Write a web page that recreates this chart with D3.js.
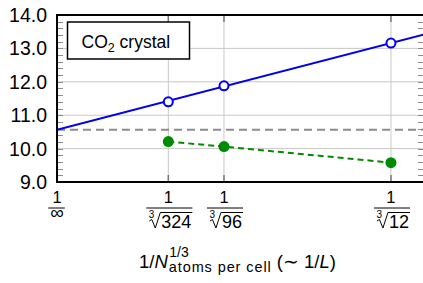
<!DOCTYPE html>
<html>
<head>
<meta charset="utf-8">
<script src="https://cdn.jsdelivr.net/npm/d3@7"></script>
<style>
	body { margin: 0; background: #fff; }
	text { font-family: "Liberation Sans", Arial, sans-serif; }
</style>
</head>
<body>
<div id="chart"></div>
<script>
// atoms per cell for each supercell, x = 1/cbrt(N)
var atomsPerCell = [324, 96, 12];
var xTickDenoms = ["∞", "324", "96", "12"];
var blueValues = [11.40, 11.88, 13.16];
var greenValues = [10.21, 10.06, 9.58];
var fitLine = [[0, 10.565], [0.48, 13.415]];
var limitLevel = 10.565;
var yTicks = [9, 10, 11, 12, 13, 14];
var legendLabel = "crystal";

function drawChart() {
	var width = 423,
		height = 283;
	var left = 57, right = 424, top = 15, bottom = 182;

	var svg = d3.select("#chart").append("svg")
		.attr("width", width)
		.attr("height", height);

	var x = d3.scaleLinear().domain([0, 0.48]).range([left, right]);
	var y = d3.scaleLinear().domain([9, 14]).range([bottom, top]);

	var xTicks = [0].concat(atomsPerCell.map(function(n) { return 1 / Math.cbrt(n); }));
	var minorTicks = d3.range(9, 14.01, 0.2);

	// grid
	svg.selectAll("line.hgrid")
		.data(yTicks.slice(1, -1))
		.enter().append("line")
			.attr("class", "hgrid")
			.attr("x1", left).attr("x2", right)
			.attr("y1", function(d) { return y(d); })
			.attr("y2", function(d) { return y(d); })
			.style("stroke", "#c8c8c8").style("stroke-width", 1);
	svg.selectAll("line.vgrid")
		.data(xTicks.slice(1))
		.enter().append("line")
			.attr("class", "vgrid")
			.attr("x1", function(d) { return x(d); })
			.attr("x2", function(d) { return x(d); })
			.attr("y1", top).attr("y2", bottom)
			.style("stroke", "#c8c8c8").style("stroke-width", 1);

	// ticks (inside, left/right and top/bottom)
	var tickColor = "#8c8c8c";
	[left, right].forEach(function(edge) {
		var dir = edge == left ? 1 : -1;
		svg.selectAll(null)
			.data(minorTicks)
			.enter().append("line")
				.attr("x1", edge).attr("x2", edge + dir * 6)
				.attr("y1", function(d) { return Math.round(y(d)) + 0.5; })
				.attr("y2", function(d) { return Math.round(y(d)) + 0.5; })
				.style("stroke", tickColor).style("stroke-width", 1);
	});
	[top, bottom].forEach(function(edge) {
		var dir = edge == top ? 1 : -1;
		svg.selectAll(null)
			.data(xTicks.slice(1))
			.enter().append("line")
				.attr("x1", function(d) { return x(d); })
				.attr("x2", function(d) { return x(d); })
				.attr("y1", edge).attr("y2", edge + dir * 7)
				.style("stroke", "#777").style("stroke-width", 1.5);
	});

	var plot = svg.append("g");
	svg.append("clipPath").attr("id", "clip")
		.append("rect").attr("x", left).attr("y", top)
		.attr("width", right - left).attr("height", bottom - top);
	plot.attr("clip-path", "url(#clip)");

	// extrapolated limit
	plot.append("line")
		.attr("x1", left).attr("x2", right)
		.attr("y1", y(limitLevel)).attr("y2", y(limitLevel))
		.style("stroke", "#8c8c8c").style("stroke-width", 2)
		.style("stroke-dasharray", "8,5");

	var line = d3.line()
		.x(function(d) { return x(d[0]); })
		.y(function(d) { return y(d[1]); });

	plot.append("path")
		.attr("d", line(fitLine))
		.style("fill", "none").style("stroke", "#0000ee").style("stroke-width", 2);

	var greenPts = atomsPerCell.map(function(n, i) { return [1 / Math.cbrt(n), greenValues[i]]; });
	plot.append("path")
		.attr("d", line(greenPts))
		.style("fill", "none").style("stroke", "#008a00").style("stroke-width", 2)
		.style("stroke-dasharray", "6,4");

	plot.selectAll("circle.blue")
		.data(atomsPerCell)
		.enter().append("circle")
			.attr("class", "blue")
			.attr("cx", function(d) { return x(1 / Math.cbrt(d)); })
			.attr("cy", function(d, i) { return y(blueValues[i]); })
			.attr("r", 4.5)
			.style("fill", "#fff").style("stroke", "#0000ee").style("stroke-width", 2);

	plot.selectAll("circle.green")
		.data(atomsPerCell)
		.enter().append("circle")
			.attr("class", "green")
			.attr("cx", function(d) { return x(1 / Math.cbrt(d)); })
			.attr("cy", function(d, i) { return y(greenValues[i]); })
			.attr("r", 5.5)
			.style("fill", "#008a00");

	// frame
	svg.append("rect")
		.attr("x", left).attr("y", top)
		.attr("width", right - left).attr("height", bottom - top)
		.style("fill", "none").style("stroke", "#000").style("stroke-width", 2);

	// y labels
	svg.selectAll("text.ylab")
		.data(yTicks)
		.enter().append("text")
			.attr("class", "ylab")
			.attr("x", 47)
			.attr("y", function(d) { return y(d) + 7; })
			.attr("text-anchor", "end")
			.style("font-size", "19.5px")
			.text(function(d) { return d3.format(".1f")(d); });

	// x labels as fractions 1 / cbrt(N)
	xTicks.forEach(function(t, i) {
		var cx = x(t);
		var g = svg.append("g");
		g.append("text")
			.attr("x", cx).attr("y", 203)
			.attr("text-anchor", "middle")
			.style("font-size", "16.5px")
			.text("1");
		var den = g.append("text")
			.attr("y", i == 0 ? 219 : 227.5)
			.style("font-size", i == 0 ? "19px" : "18px")
			.text(xTickDenoms[i]);
		var w = den.node().getComputedTextLength();
		var rootW = i == 0 ? 0 : 13;
		var x0 = cx - (w + rootW) / 2 + (i == 0 ? 0 : 1.5);
		den.attr("x", x0 + rootW);
		g.append("line")
			.attr("x1", x0 - 2).attr("x2", x0 + rootW + w + 1)
			.attr("y1", 208).attr("y2", 208)
			.style("stroke", "#000").style("stroke-width", 1);
		if (i > 0) {
			g.append("path")
				.attr("d", "M" + (x0 + 1) + ",221 L" + (x0 + 3.5) + ",219.5 L" + (x0 + 7) + ",228 L" +
					(x0 + 12) + ",212.5 L" + (x0 + rootW + w + 1) + ",212.5")
				.style("fill", "none").style("stroke", "#000").style("stroke-width", 1);
			g.append("text")
				.attr("x", x0 + 0.5).attr("y", 218)
				.style("font-size", "10px")
				.text("3");
		}
	});

	// legend
	svg.append("rect")
		.attr("x", 67.5).attr("y", 22)
		.attr("width", 122).attr("height", 37)
		.style("fill", "#fff").style("stroke", "#000").style("stroke-width", 1.5);
	var lt = svg.append("text")
		.attr("x", 81.5).attr("y", 48)
		.style("font-size", "17.5px");
	lt.append("tspan").text("CO");
	lt.append("tspan").attr("dy", 4).style("font-size", "12.5px").text("2");
	lt.append("tspan").attr("dy", -4).text(" " + legendLabel);

	// x axis title
	var title = svg.append("text")
		.attr("x", 139).attr("y", 268)
		.style("font-size", "18.5px");
	title.append("tspan").text("1/");
	title.append("tspan").style("font-style", "italic").text("N");
	title.append("tspan").attr("dy", -11).attr("dx", 1.5).style("font-size", "14px").text("1/3");
	title.append("tspan").attr("dy", 15).attr("dx", -20).style("font-size", "14.5px")
		.style("letter-spacing", "0.9px").text("atoms per cell");
	title.append("tspan").attr("dy", -4).text(" (∼ 1/");
	title.append("tspan").style("font-style", "italic").text("L");
	title.append("tspan").text(")");
}

drawChart();
</script>
</body>
</html>
